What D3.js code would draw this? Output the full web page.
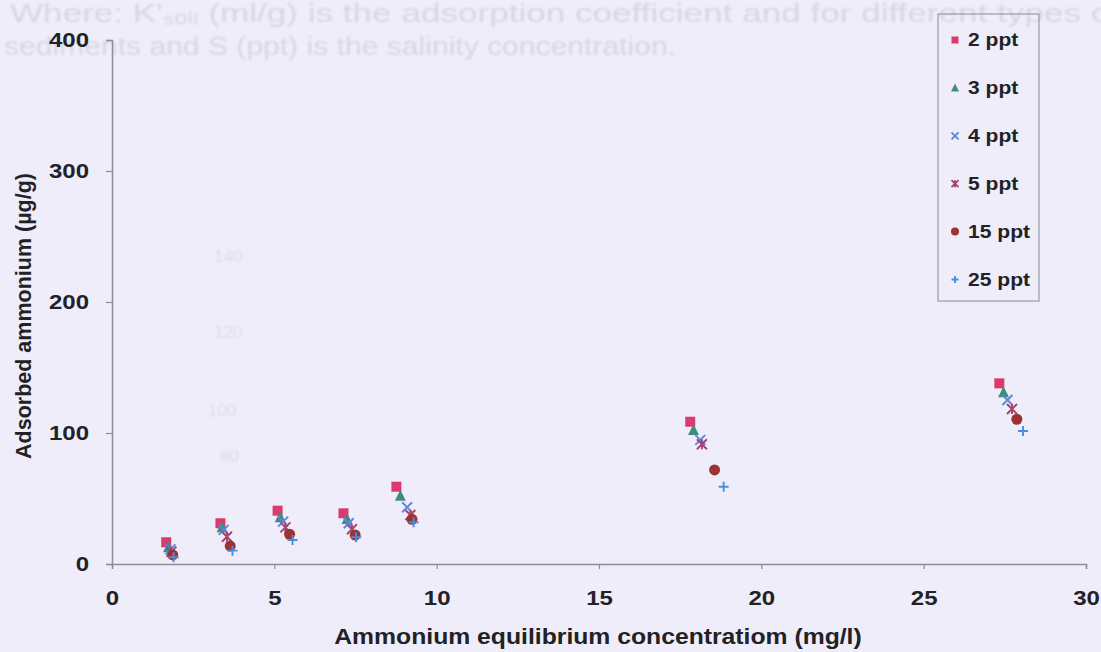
<!DOCTYPE html>
<html>
<head>
<meta charset="utf-8">
<script src="https://cdn.jsdelivr.net/npm/d3@7"></script>
<style>
  html, body { margin: 0; padding: 0; background: #eeedf9; }
  svg { display: block; }
  text { font-family: "Liberation Sans", Arial, sans-serif; }
</style>
</head>
<body>
<svg id="chart" width="1101" height="652"></svg>
<script>
// Salinity series (legend labels)
const seriesNames = ["2 ppt", "3 ppt", "4 ppt", "5 ppt", "15 ppt", "25 ppt"];

// Equilibrium concentration (mg/l) per series, seven dosing levels each
const x2ppt  = [1.67, 3.34, 5.10, 7.13, 8.76, 17.81, 27.33];
const x3ppt  = [1.74, 3.39, 5.18, 7.24, 8.88, 17.91, 27.46];
const x4ppt  = [1.80, 3.44, 5.27, 7.29, 9.09, 18.12, 27.58];
const x5ppt  = [1.83, 3.54, 5.34, 7.39, 9.19, 18.17, 27.72];
const x15ppt = [1.87, 3.64, 5.47, 7.49, 9.24, 18.56, 27.87];
const x25ppt = [1.90, 3.71, 5.56, 7.52, 9.29, 18.84, 28.06];

// Adsorbed ammonium (µg/g) per series
const y2ppt  = [16.6, 31.1, 40.7, 38.7, 59.0, 108.6, 137.9];
const y3ppt  = [12.7, 28.0, 35.6, 34.4, 52.1, 102.3, 131.1];
const y4ppt  = [11.2, 26.0, 32.3, 31.1, 43.3, 94.7, 125.2];
const y5ppt  = [9.4, 20.8, 28.0, 26.5, 37.4, 91.4, 118.3];
const y15ppt = [6.9, 13.7, 22.7, 22.1, 34.1, 71.8, 110.5];
const y25ppt = [5.1, 10.2, 18.3, 20.4, 31.8, 59.0, 101.5];

const xTicks = [0, 5, 10, 15, 20, 25, 30];
const yTicks = [0, 100, 200, 300, 400];

const xValues = [x2ppt, x3ppt, x4ppt, x5ppt, x15ppt, x25ppt];
const yValues = [y2ppt, y3ppt, y4ppt, y5ppt, y15ppt, y25ppt];

const markerShapes = ["square", "triangle", "cross", "star", "circle", "plus"];
const markerColors = ["#dc3a6e", "#3f8c7e", "#5a88e0", "#a8436e", "#9c3232", "#4a8ee0"];

const W = 1101, H = 652;
const margin = { top: 40, right: 15, bottom: 88, left: 112 };
const svg = d3.select("#chart");

// widen glyphs horizontally while keeping the text anchor in place
function widen(sel, k) {
  sel.each(function () {
    const len = this.getComputedTextLength();
    d3.select(this).attr("textLength", len * k).attr("lengthAdjust", "spacingAndGlyphs");
  });
}

// faint show-through text from the facing page
const defs = svg.append("defs");
defs.append("filter").attr("id", "soft").append("feGaussianBlur").attr("stdDeviation", 0.9);
const ghost = svg.append("g").attr("fill", "#d7d6e6").attr("font-size", 25).attr("filter", "url(#soft)");
ghost.append("text").attr("x", 10).attr("y", 22)
  .attr("textLength", 1110).attr("lengthAdjust", "spacingAndGlyphs")
  .text("Where: K'\u209B\u2092\u1D62\u2097 (ml/g) is the adsorption coefficient and for different types of");
ghost.append("text").attr("x", 4).attr("y", 55)
  .attr("textLength", 672).attr("lengthAdjust", "spacingAndGlyphs")
  .text("sediments and S (ppt) is the salinity concentration.");
const ghostNums = [["140", 214, 262], ["120", 214, 338], ["100", 208, 416], ["80", 220, 462]];
ghostNums.forEach(([t, gx, gy]) => {
  ghost.append("text").attr("x", gx).attr("y", gy).attr("font-size", 17).attr("fill", "#dddcea").text(t);
});

const x = d3.scaleLinear().domain([0, 30]).range([margin.left, W - margin.right]);
const y = d3.scaleLinear().domain([0, 400]).range([H - margin.bottom, margin.top]);

const axisColor = "#8d8c9a";
const labelColor = "#222226";

// Y axis
const yAxis = svg.append("g")
  .attr("transform", `translate(${margin.left},0)`)
  .call(d3.axisLeft(y).tickValues(yTicks).tickSize(6).tickPadding(17).tickFormat(d3.format("d")));
// X axis
const xAxis = svg.append("g")
  .attr("transform", `translate(0,${H - margin.bottom})`)
  .call(d3.axisBottom(x).tickValues(xTicks).tickSize(5).tickPadding(22).tickFormat(d3.format("d")));

[yAxis, xAxis].forEach(g => {
  g.select(".domain").attr("stroke", axisColor).attr("stroke-width", 1.5);
  g.selectAll(".tick line").attr("stroke", axisColor).attr("stroke-width", 1.2);
  g.selectAll(".tick text")
    .attr("fill", labelColor)
    .attr("font-family", "'Liberation Sans', Arial, sans-serif")
    .attr("font-weight", "bold")
    .attr("font-size", 20);
  widen(g.selectAll(".tick text"), 1.2);
});

// Axis titles
svg.append("text")
  .attr("transform", `translate(31,${316}) rotate(-90)`)
  .attr("text-anchor", "middle")
  .attr("font-weight", "bold").attr("font-size", 21.5).attr("fill", labelColor)
  .text("Adsorbed ammonium (\u00B5g/g)");
svg.append("text")
  .attr("x", 598).attr("y", 644)
  .attr("text-anchor", "middle")
  .attr("font-weight", "bold").attr("font-size", 21.5).attr("fill", labelColor)
  .text("Ammonium equilibrium concentratiom (mg/l)")
  .call(widen, 1.15);

// Marker drawing
function drawMarker(g, shape, color, size) {
  const s = size / 2;
  if (shape === "square") {
    g.append("rect").attr("x", -s).attr("y", -s).attr("width", size).attr("height", size).attr("fill", color);
  } else if (shape === "triangle") {
    g.append("path").attr("d", `M0,${-s - 1}L${s + 0.5},${s}L${-s - 0.5},${s}Z`).attr("fill", color);
  } else if (shape === "cross") {
    g.append("path").attr("d", `M${-s},${-s}L${s},${s}M${-s},${s}L${s},${-s}`)
      .attr("stroke", color).attr("stroke-width", 1.9).attr("fill", "none");
  } else if (shape === "star") {
    g.append("path").attr("d", `M${-s},${-s}L${s},${s}M${-s},${s}L${s},${-s}M0,${-s}L0,${s}`)
      .attr("stroke", color).attr("stroke-width", 1.9).attr("fill", "none");
  } else if (shape === "circle") {
    g.append("circle").attr("r", s + 0.5).attr("fill", color);
  } else if (shape === "plus") {
    g.append("path").attr("d", `M${-s},0L${s},0M0,${-s}L0,${s}`)
      .attr("stroke", color).attr("stroke-width", 1.9).attr("fill", "none");
  }
}

// Points
seriesNames.forEach((name, i) => {
  const pts = xValues[i].map((xv, j) => [xv, yValues[i][j]]);
  const gs = svg.append("g").attr("class", "series");
  gs.selectAll("g.pt").data(pts).enter().append("g")
    .attr("class", "pt")
    .attr("transform", d => `translate(${x(d[0])},${y(d[1])})`)
    .each(function () { drawMarker(d3.select(this), markerShapes[i], markerColors[i], 10); });
});

// Legend
const legend = svg.append("g");
legend.append("rect").attr("x", 938).attr("y", 14).attr("width", 101).attr("height", 287)
  .attr("fill", "none").attr("stroke", "#9a99a6").attr("stroke-width", 1.2);
seriesNames.forEach((name, i) => {
  const ly = 40 + i * 47.9;
  const g = legend.append("g").attr("transform", `translate(955,${ly})`);
  drawMarker(g, markerShapes[i], markerColors[i], 7);
  legend.append("text").attr("x", 968).attr("y", ly).attr("dy", "0.36em")
    .attr("font-weight", "bold").attr("font-size", 18).attr("fill", labelColor)
    .text(name)
    .call(widen, 1.17);
});
</script>
</body>
</html>
